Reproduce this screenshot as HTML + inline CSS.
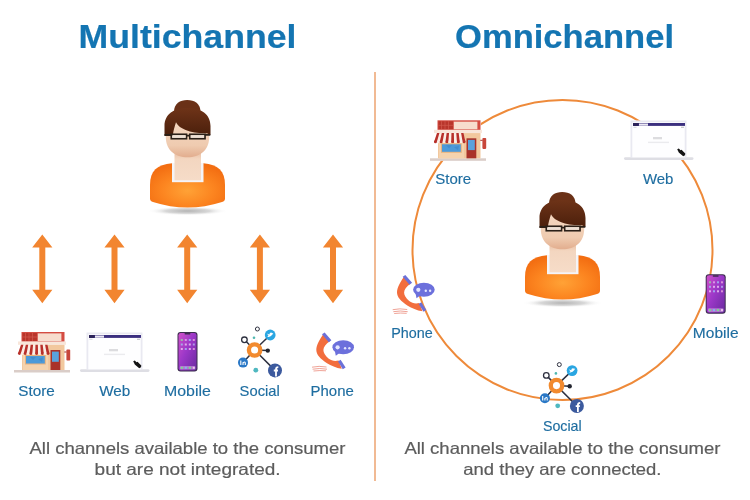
<!DOCTYPE html>
<html><head><meta charset="utf-8">
<style>
html,body{margin:0;padding:0;background:#fff;width:750px;height:500px;overflow:hidden}
svg{display:block;will-change:transform}
text{font-family:"Liberation Sans",sans-serif}
.t{font-weight:bold;font-size:33px;fill:#1475b2;stroke:#1475b2;stroke-width:0.2px}
.l{font-size:14.5px;fill:#1e6da0;stroke:#1e6da0;stroke-width:0.15px}
.d{font-size:16.5px;fill:#5c5c5c;stroke:#5c5c5c;stroke-width:0.2px}
</style></head><body>
<svg width="750" height="500" viewBox="0 0 750 500">
<defs>
<radialGradient id="gBody" cx="0.5" cy="0.62" r="0.62">
 <stop offset="0" stop-color="#ffa236"/><stop offset="0.55" stop-color="#fc8520"/><stop offset="1" stop-color="#f36e12"/>
</radialGradient>
<linearGradient id="gFace" x1="0" y1="0" x2="0" y2="1">
 <stop offset="0" stop-color="#f6dcc8"/><stop offset="0.75" stop-color="#efcbb0"/><stop offset="1" stop-color="#e2ad8e"/>
</linearGradient>
<linearGradient id="gNeck" x1="0" y1="0" x2="0" y2="1">
 <stop offset="0" stop-color="#e7b99b"/><stop offset="0.3" stop-color="#f3d6c0"/><stop offset="1" stop-color="#f6dcc8"/>
</linearGradient>
<linearGradient id="gHair" x1="0" y1="0" x2="0" y2="1">
 <stop offset="0" stop-color="#6e3318"/><stop offset="1" stop-color="#4a1f0b"/>
</linearGradient>
<radialGradient id="gShadow" cx="0.5" cy="0.5" r="0.5">
 <stop offset="0" stop-color="#b4b4b4"/><stop offset="0.55" stop-color="#d8d8d8"/><stop offset="1" stop-color="#fff" stop-opacity="0"/>
</radialGradient>
<linearGradient id="gScreen" x1="0" y1="0" x2="1" y2="1">
 <stop offset="0" stop-color="#d050c8"/><stop offset="0.45" stop-color="#9c38c8"/><stop offset="1" stop-color="#6a2aa0"/>
</linearGradient>

<g id="person">
 <ellipse cx="187.5" cy="211" rx="40" ry="4.5" fill="url(#gShadow)"/>
 <path d="M150,198.5 L150,185 C150,171 157,164.5 172,163.3 L203.5,163.3 C218,164.5 225,171 225,185 L225,198.5 Q225,201 222,202 Q187.5,213 153,202 Q150,201 150,198.5 Z" fill="url(#gBody)"/>
 <rect x="172" y="163" width="31.5" height="19.2" fill="#f4f4f8"/>
 <rect x="174.5" y="150" width="26.5" height="30.3" fill="url(#gNeck)"/>
 <path d="M165.8,128 C165.8,116 176,110 187.5,110 C199,110 209.2,116 209.2,128 L209.2,137 C209.2,150 200,157.3 187.5,157.3 C175,157.3 165.8,150 165.8,137 Z" fill="url(#gFace)"/>
 <path d="M174,112 C174,103.5 180,100 187.2,100 C194.5,100 200.5,103.5 200.5,112 Z" fill="#6a3117"/>
 <path d="M164.5,136 L164.5,126 C164.5,114 174,108 187.5,108 C201,108 210.5,114 210.5,126 L210.5,135 L207.5,133.4 C198,133.4 181,132 176,122.3 C174.5,127 173.3,131 172.8,136 Z" fill="url(#gHair)"/>
 <g fill="none" stroke="#2a2018" stroke-width="1.7">
  <rect x="171.3" y="134.3" width="15.2" height="4.4"/>
  <rect x="189.8" y="134.3" width="15.2" height="4.4"/>
  <path d="M186.5,135.6 L189.8,135.6 M164.5,134.8 L171.3,134.8 M205,134.8 L210.3,134.8"/>
 </g>
 <rect x="172.2" y="135.2" width="13.4" height="2.6" fill="#ebe0d6"/>
 <rect x="190.7" y="135.2" width="13.4" height="2.6" fill="#ebe0d6"/>
</g>

<g id="store">
 <rect x="14" y="370" width="56" height="2.5" fill="#dacdc8"/>
 <rect x="22" y="344.5" width="42.5" height="25.5" fill="#f2c89e"/>
 <rect x="23" y="354" width="25" height="16" fill="#f5d3ae"/>
 <rect x="21.5" y="332" width="43" height="9.8" fill="#d44c42"/>
 <rect x="22.5" y="333" width="14.5" height="8" fill="#b9352b"/>
 <path d="M25.5,333 V341 M29,333 V341 M32.5,333 V341 M22.5,337 H37" stroke="#d35a4e" stroke-width="0.7"/>
 <rect x="37.8" y="333.4" width="23.6" height="7.6" fill="#f7dccd"/>
 <rect x="18" y="341.5" width="48" height="3.3" fill="#f8e6da"/>
 <path d="M18,353.6 L21,344.8 L47.5,344.8 L49.5,353.6 Z" fill="#fbeee6"/>
 <path d="M18.00,353.6 L21.00,344.8 L23.41,344.8 L20.86,353.6 Z M23.73,353.6 L25.82,344.8 L28.23,344.8 L26.59,353.6 Z M29.46,353.6 L30.64,344.8 L33.05,344.8 L32.32,353.6 Z M35.18,353.6 L35.46,344.8 L37.87,344.8 L38.05,353.6 Z M40.91,353.6 L40.28,344.8 L42.69,344.8 L43.78,353.6 Z M46.64,353.6 L45.10,344.8 L47.51,344.8 L49.50,353.6 Z" fill="#b8302a"/>
 <circle cx="19.43" cy="353.6" r="1.45" fill="#b8302a"/><circle cx="22.30" cy="353.6" r="1.45" fill="#fbeee6"/><circle cx="25.16" cy="353.6" r="1.45" fill="#b8302a"/><circle cx="28.02" cy="353.6" r="1.45" fill="#fbeee6"/><circle cx="30.89" cy="353.6" r="1.45" fill="#b8302a"/><circle cx="33.75" cy="353.6" r="1.45" fill="#fbeee6"/><circle cx="36.62" cy="353.6" r="1.45" fill="#b8302a"/><circle cx="39.48" cy="353.6" r="1.45" fill="#fbeee6"/><circle cx="42.34" cy="353.6" r="1.45" fill="#b8302a"/><circle cx="45.21" cy="353.6" r="1.45" fill="#fbeee6"/><circle cx="48.07" cy="353.6" r="1.45" fill="#b8302a"/>
 <rect x="25" y="355" width="20.8" height="9.5" fill="#e8b27e"/>
 <rect x="26" y="356" width="18.8" height="7.5" fill="#4c9ad9"/>
 <path d="M30,357 L36,357 L33,360 Z M38,359 L43,357.5 L42,362 Z" fill="#3e86c6" opacity="0.6"/>
 <rect x="50.5" y="350" width="9.8" height="20" fill="#a9322a"/>
 <rect x="52" y="351.6" width="6.8" height="10.2" fill="#5aa2dd"/>
 <rect x="66.4" y="349.6" width="3.8" height="11" rx="0.8" fill="#c8463a"/>
 <rect x="64.3" y="351.5" width="2.3" height="1" fill="#a9322a"/>
</g>

<g id="web">
 <rect x="80" y="369.3" width="69.5" height="2.6" rx="1.3" fill="#dedee4"/>
 <rect x="86.5" y="332.5" width="56" height="37" fill="#e9e9f1"/>
 <rect x="88.3" y="334.3" width="52.4" height="35" fill="#fefeff"/>
 <rect x="89" y="335" width="52" height="2.9" fill="#3b2f7f"/>
 <rect x="89" y="335" width="5.5" height="2.9" fill="#2c2358"/>
 <rect x="95" y="335.5" width="9" height="2.2" fill="#ece9f4"/>
 <rect x="89.5" y="338.8" width="3" height="0.8" fill="#c8c8d0"/>
 <rect x="137" y="338.8" width="3" height="0.8" fill="#a8a8b0"/>
 <rect x="109" y="349" width="9" height="2.3" fill="#dcdcdf"/>
 <rect x="104" y="353.7" width="21" height="1.4" fill="#ebebee"/>
 <path d="M133.2,361.2 L134.8,360.4 L136.5,362.3 L137.5,361.8 L141.3,365.6 L141,367.2 L139.2,368.2 L134.8,364.6 Z" fill="#141414"/>
</g>

<g id="mobile">
 <rect x="177.5" y="332" width="20" height="39.5" rx="3" fill="#3b2c4e"/>
 <rect x="178.5" y="333" width="18" height="37.5" rx="2.3" fill="url(#gScreen)"/>
 <rect x="184.5" y="333" width="6" height="1.5" rx="0.7" fill="#3b2c4e"/>
 <g opacity="0.75">
  <rect x="180.8" y="339" width="2" height="2" fill="#8fe0a0"/><rect x="184.8" y="339" width="2" height="2" fill="#e8b0f0"/><rect x="188.8" y="339" width="2" height="2" fill="#a0c8f8"/><rect x="192.8" y="339" width="2" height="2" fill="#f0b0e0"/>
  <rect x="180.8" y="343.5" width="2" height="2" fill="#a0c8f8"/><rect x="184.8" y="343.5" width="2" height="2" fill="#f4d0f8"/><rect x="188.8" y="343.5" width="2" height="2" fill="#f4d0f8"/><rect x="192.8" y="343.5" width="2" height="2" fill="#b8b8f8"/>
  <rect x="180.8" y="348" width="2" height="2" fill="#f4d0f8"/><rect x="184.8" y="348" width="2" height="2" fill="#a0c8f8"/><rect x="188.8" y="348" width="2" height="2" fill="#f4d0f8"/><rect x="192.8" y="348" width="2" height="2" fill="#f0b0e0"/>
 </g>
 <rect x="179.8" y="366" width="15.5" height="3.6" rx="1" fill="#d0a8e0" opacity="0.6"/>
 <rect x="180.8" y="366.8" width="2" height="2" fill="#7ed890"/><rect x="184.8" y="366.8" width="2" height="2" fill="#80b8f0"/><rect x="188.8" y="366.8" width="2" height="2" fill="#7ed890"/><rect x="192.8" y="366.8" width="2" height="2" fill="#f0c0f0"/>
</g>

<g id="social">
 <g stroke="#2e3140" stroke-width="1.5" fill="none">
  <path d="M254.6,350 L270.2,335 M254.6,350 L275,370.4 M254.6,350 L243,362.6 M254.6,350 L267.8,350.6 M254.6,350 L244.4,339.8"/>
 </g>
 <circle cx="244.4" cy="339.8" r="2.8" fill="#fff" stroke="#2e3140" stroke-width="1.3"/>
 <circle cx="257.4" cy="329" r="2" fill="#fff" stroke="#2e3140" stroke-width="1"/>
 <circle cx="254" cy="337.8" r="1.3" fill="#4fb8b0"/>
 <circle cx="255.8" cy="370.2" r="2.4" fill="#4fb8c0"/>
 <circle cx="267.8" cy="350.6" r="2.2" fill="#23252f"/>
 <circle cx="254.6" cy="350" r="5.7" fill="#fff" stroke="#f28a2e" stroke-width="4.3"/>
 <circle cx="270.2" cy="335" r="5.4" fill="#2aa6e2"/>
 <path d="M267.3,336.8 Q270.5,337.5 272.5,334.5 L273.3,333 L272.3,333.2 Q271,332 269.8,333.2 Q269.3,334 269.6,334.6 Q268.5,334.5 267.5,333.6 Q267.3,335 268.6,335.6 Q268,335.8 267.3,336.8 Z" fill="#fff"/>
 <circle cx="243" cy="362.6" r="5" fill="#2a78c6"/>
 <path d="M240.8,360.5 V365 M243,362.3 V365 M243,363 Q245.3,360.8 245.3,363.3 V365" stroke="#fff" stroke-width="1.1" fill="none"/>
 <circle cx="275" cy="370.4" r="7" fill="#3c5a9e"/>
 <path d="M276,376.5 V369.5 Q276,367.2 278.3,367.2 M273.8,370.5 H278" stroke="#fff" stroke-width="1.8" fill="none"/>
</g>

<g id="phone">
 <path d="M312,367.2 Q319,365.6 326.5,367 M312.6,369.2 Q319.5,367.8 327,369.2 M313.5,371 Q320,370.2 326,370.8" stroke="#ea8474" stroke-width="0.75" fill="none"/>
 <path d="M323.3,334.2 C320,339 316.3,345 316.3,349.8 C316.3,354.5 320,358.8 327,363.2 C331,365.7 336,367.8 341.8,368.8 L338.6,360.6 C335,361.5 331.5,361 328.5,358.6 C325,355.6 323.4,352.5 323.4,350 C323.4,347 326,344 329.8,341.3 Z" fill="#f26d3d"/>
 <path d="M322,334.3 L324.6,332.5 L331.4,340.3 L328.8,342.2 Z" fill="#6b70d8"/>
 <path d="M338,361.5 L340.6,359.8 L345.6,367.5 L342.8,369.2 Z" fill="#6b70d8"/>
 <ellipse cx="343.2" cy="347.3" rx="10.8" ry="7" fill="#6c70dc"/>
 <path d="M334.8,350.5 L335.8,355.8 L339.8,352.8 Z" fill="#6c70dc"/>
 <circle cx="337.6" cy="347.3" r="2.1" fill="#e4e6ff"/>
 <circle cx="345.1" cy="348.2" r="1.2" fill="#e4e6ff"/>
 <circle cx="349.4" cy="348.2" r="1.2" fill="#e4e6ff"/>
</g>
</defs>
<!-- titles -->
<text class="t" x="187.5" y="48" text-anchor="middle" textLength="218" lengthAdjust="spacingAndGlyphs">Multichannel</text>
<text class="t" x="564.5" y="48" text-anchor="middle" textLength="219" lengthAdjust="spacingAndGlyphs">Omnichannel</text>
<!-- divider -->
<rect x="374" y="72" width="2" height="409" fill="#f1ba94"/>
<!-- circle -->
<circle cx="562.5" cy="250" r="150" fill="none" stroke="#ee8a3a" stroke-width="2"/>
<!-- arrows -->
<g fill="#f28530">
<path id="arr" d="M42.3,234.4 L52.4,247.5 L45.3,247.5 L45.3,289.7 L52.4,289.7 L42.3,303.2 L32.2,289.7 L39.3,289.7 L39.3,247.5 L32.2,247.5 Z"/>
<use href="#arr" x="72.2"/>
<use href="#arr" x="144.9"/>
<use href="#arr" x="217.6"/>
<use href="#arr" x="290.7"/>
</g>
<!-- icons left -->
<use href="#person"/>
<use href="#store"/>
<use href="#web"/>
<use href="#mobile"/>
<use href="#social"/>
<use href="#phone"/>
<!-- icons right -->
<use href="#person" x="375" y="92"/>
<rect x="429" y="120.3" width="51.8" height="40.3" fill="#fff"/>
<rect x="624" y="120.8" width="68" height="38.6" fill="#fff"/>
<use href="#store" x="416" y="-211.7"/>
<use href="#web" x="544" y="-212"/>
<use href="#mobile" x="528.2" y="-57.7"/>
<use href="#social" x="301.9" y="35.6"/>
<use href="#phone" x="80.7" y="-57.5"/>
<!-- labels -->
<text class="l" x="36.6" y="396.3" text-anchor="middle" textLength="36.5" lengthAdjust="spacingAndGlyphs">Store</text>
<text class="l" x="114.8" y="396.3" text-anchor="middle" textLength="31.1" lengthAdjust="spacingAndGlyphs">Web</text>
<text class="l" x="187.4" y="396.3" text-anchor="middle" textLength="46.8" lengthAdjust="spacingAndGlyphs">Mobile</text>
<text class="l" x="259.7" y="396.3" text-anchor="middle" textLength="40.2" lengthAdjust="spacingAndGlyphs">Social</text>
<text class="l" x="332.2" y="396.3" text-anchor="middle" textLength="43.2" lengthAdjust="spacingAndGlyphs">Phone</text>

<text class="l" x="453.2" y="184" text-anchor="middle" textLength="35.9" lengthAdjust="spacingAndGlyphs">Store</text>
<text class="l" x="658.2" y="184" text-anchor="middle" textLength="30.5" lengthAdjust="spacingAndGlyphs">Web</text>
<text class="l" x="412" y="338.2" text-anchor="middle" textLength="41.5" lengthAdjust="spacingAndGlyphs">Phone</text>
<text class="l" x="715.7" y="338" text-anchor="middle" textLength="45.7" lengthAdjust="spacingAndGlyphs">Mobile</text>
<text class="l" x="562.3" y="430.7" text-anchor="middle" textLength="38.8" lengthAdjust="spacingAndGlyphs">Social</text>

<!-- descriptions -->
<text class="d" x="187.5" y="454.4" text-anchor="middle" textLength="316" lengthAdjust="spacingAndGlyphs">All channels available to the consumer</text>
<text class="d" x="187.6" y="474.7" text-anchor="middle" textLength="186" lengthAdjust="spacingAndGlyphs">but are not integrated.</text>
<text class="d" x="562.4" y="454.4" text-anchor="middle" textLength="316" lengthAdjust="spacingAndGlyphs">All channels available to the consumer</text>
<text class="d" x="562.4" y="474.7" text-anchor="middle" textLength="198.2" lengthAdjust="spacingAndGlyphs">and they are connected.</text>
</svg>
</body></html>
